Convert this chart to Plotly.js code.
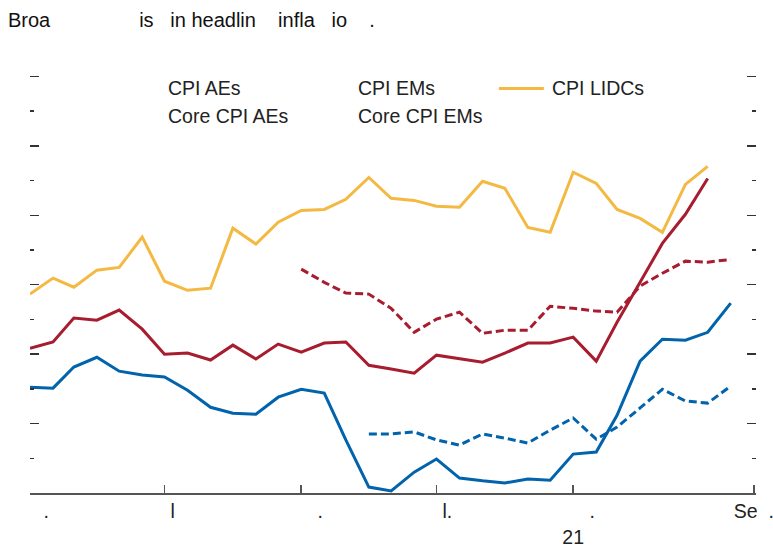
<!DOCTYPE html>
<html>
<head>
<meta charset="utf-8">
<script src="https://cdn.plot.ly/plotly-3.0.1.min.js"></script>
<style>html,body{margin:0;padding:0;background:#fff;}#chart{width:773px;height:552px;}</style>
</head>
<body>
<div id="chart"></div>
<script>
// Months Jan 2019 .. Aug 2021
var months = ["2019-01","2019-02","2019-03","2019-04","2019-05","2019-06","2019-07","2019-08","2019-09","2019-10","2019-11","2019-12",
              "2020-01","2020-02","2020-03","2020-04","2020-05","2020-06","2020-07","2020-08","2020-09","2020-10","2020-11","2020-12",
              "2021-01","2021-02","2021-03","2021-04","2021-05","2021-06","2021-07","2021-08"];

// CPI LIDCs (Jan 2019 - Jul 2021)
var cpiLIDC = [5.73,6.19,5.93,6.42,6.50,7.37,6.10,5.84,5.90,7.63,7.17,7.80,8.14,8.17,8.46,9.09,8.49,8.43,8.26,8.23,8.98,8.78,7.65,7.51,9.24,8.92,8.17,7.91,7.51,8.89,9.41];
// CPI EMs (Jan 2019 - Jul 2021)
var cpiEM = [4.17,4.35,5.04,4.98,5.27,4.72,4.00,4.03,3.83,4.26,3.86,4.29,4.06,4.32,4.35,3.68,3.57,3.45,3.97,3.88,3.77,4.03,4.32,4.32,4.49,3.80,4.92,6.07,7.19,8.03,9.06];
// Core CPI EMs (Jan 2020 - Aug 2021)
var coreEM = [6.45,6.07,5.76,5.73,5.32,4.63,5.01,5.21,4.60,4.69,4.69,5.38,5.32,5.24,5.21,5.96,6.33,6.68,6.65,6.73];
// CPI AEs (Jan 2019 - Aug 2021)
var cpiAE = [3.05,3.02,3.63,3.91,3.51,3.40,3.34,2.96,2.47,2.30,2.27,2.76,2.99,2.88,1.53,0.17,0.06,0.60,0.98,0.43,0.35,0.29,0.40,0.37,1.12,1.18,2.24,3.80,4.43,4.40,4.63,5.47];
// Core CPI AEs (Apr 2020 - Aug 2021)
var coreAE = [1.70,1.70,1.76,1.53,1.38,1.70,1.58,1.44,1.81,2.16,1.55,1.90,2.45,2.99,2.65,2.59,3.08];

var tickVals = ["2019-01-01","2019-07-01","2020-01-01","2020-07-01","2021-01-01","2021-09-01"];
var NB = "\u00A0";
function sp(n){ return new Array(n+1).join(NB); }
var tickText = [sp(6)+".", sp(3)+"l", sp(7)+".", sp(4)+"l.", sp(7)+".<br>21", "Se"+sp(2)+"."];

var titleText = "Broa" + sp(16) + "is" + sp(3) + "in headlin" + sp(4) + "infla" + sp(3) + "io" + sp(4) + ".";

var blue = "#0063AC", red = "#A81C30", yellow = "#F4B942";
var FONT = "Liberation Sans, Arial, sans-serif";

var traces = [
  {x: months.slice(0, cpiLIDC.length), y: cpiLIDC, mode: "lines", line: {color: yellow, width: 3}},
  {x: months.slice(0, cpiEM.length), y: cpiEM, mode: "lines", line: {color: red, width: 3}},
  {x: months.slice(12, 12 + coreEM.length), y: coreEM, mode: "lines", line: {color: red, width: 3, dash: "8px,4px"}},
  {x: months.slice(0, cpiAE.length), y: cpiAE, mode: "lines", line: {color: blue, width: 3}},
  {x: months.slice(15, 15 + coreAE.length), y: coreAE, mode: "lines", line: {color: blue, width: 3, dash: "8px,4px"}}
];

var W = 773, H = 552;
// plot area in pixels
var L = 30, R = 756.2, T = 72.5, B = 493;
function px(x){ return (x - L) / (R - L); }
function py(y){ return (B - y) / (B - T); }

function legText(t, x, y){
  return {text: t, x: px(x), y: py(y), xref: "paper", yref: "paper", xanchor: "left", yanchor: "middle",
          showarrow: false, font: {family: FONT, size: 19.5, color: "#222"}};
}

var layout = {
  width: W, height: H,
  margin: {l: L, r: W - R, t: T, b: H - B, pad: 0},
  paper_bgcolor: "#fff", plot_bgcolor: "#fff",
  showlegend: false,
  font: {family: FONT, size: 19.5, color: "#222"},
  title: {text: titleText, x: 8 / W, xref: "container", xanchor: "left", y: 1 - 20 / H, yref: "container", yanchor: "middle",
          font: {family: FONT, size: 20, color: "#111"}},
  xaxis: {
    type: "date", range: ["2019-01-01", "2021-09-04"], showgrid: false, zeroline: false,
    showline: true, linecolor: "#555", linewidth: 2,
    ticks: "inside", ticklen: 8, tickwidth: 1.5, tickcolor: "#555",
    tickmode: "array", tickvals: tickVals, ticktext: tickText, ticklabeloverflow: "allow",
    tickfont: {family: FONT, size: 19.5, color: "#222"}, automargin: false
  },
  yaxis: {
    range: [0, 12.1], showgrid: false, zeroline: false, showline: false,
    ticks: "inside", ticklen: 9, tickwidth: 1.5, tickcolor: "#333", dtick: 2, tick0: 0,
    showticklabels: false, mirror: "ticks",
    minor: {dtick: 1, ticks: "inside", ticklen: 4, tickwidth: 1.5, tickcolor: "#333", showgrid: false},
    automargin: false
  },
  annotations: [
    legText("CPI AEs", 166, 88),
    legText("Core CPI AEs", 166, 116),
    legText("CPI EMs", 356, 88),
    legText("Core CPI EMs", 356, 116),
    legText("CPI LIDCs", 550, 88)
  ],
  shapes: [
    {type: "line", xref: "paper", yref: "paper", x0: px(499), x1: px(544), y0: py(88), y1: py(88), line: {color: yellow, width: 3}}
  ]
};

Plotly.newPlot("chart", traces, layout, {staticPlot: true, displayModeBar: false});
</script>
</body>
</html>
